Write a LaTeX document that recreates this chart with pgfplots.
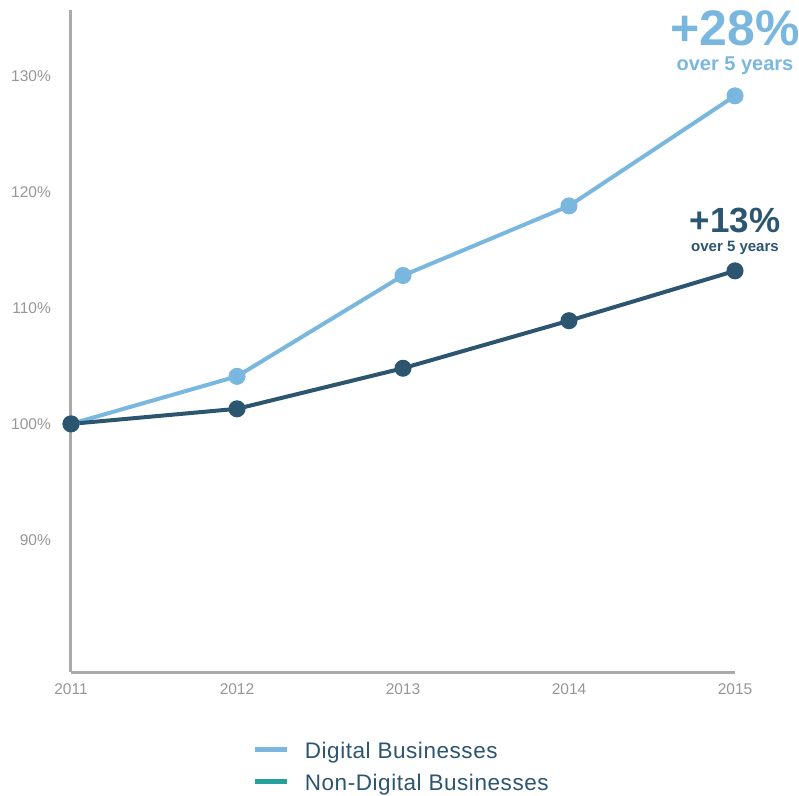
\documentclass[border=0pt]{standalone}
\usepackage{fontspec}
\setmainfont{Liberation Sans}
\newfontfamily\legendfont[LetterSpace=2.5]{Liberation Sans}
\usepackage{pgfplots}
\pgfplotsset{compat=1.18}

\definecolor{lightblue}{RGB}{122,183,222}
\definecolor{darkblue}{RGB}{44,85,112}
\definecolor{tealgreen}{RGB}{38,160,154}
\definecolor{axisgray}{RGB}{170,170,170}
\definecolor{tickgray}{RGB}{150,150,150}

\begin{document}
\begin{tikzpicture}[x=1pt,y=1pt]
\useasboundingbox (0,0) rectangle (799,795);
\begin{axis}[
    at={(71pt,123pt)}, anchor=south west,
    scale only axis, width=664pt, height=662pt,
    xmin=2011, xmax=2015, ymin=78.6, ymax=135.7,
    axis x line=bottom, axis y line=left,
    axis line style={draw=axisgray, line width=3pt, -},
    xtick={2011,2012,2013,2014,2015},
    ytick={90,100,110,120,130},
    major tick length=0pt,
    /pgf/number format/assume math mode=true,
    /pgf/number format/1000 sep={},
    yticklabel={\pgfmathprintnumber{\tick}\%},
    ticklabel style={text=tickgray, font=\fontsize{15.5}{16}\selectfont, inner sep=0pt},
    xticklabel style={anchor=north, yshift=-11pt},
    yticklabel style={anchor=east, xshift=-20pt},
    clip=false,
    legend style={at={(axis description cs:0.2725,-0.106)}, anchor=north west,
        draw=none, fill=none, inner sep=0pt, row sep=16pt,
        font=\legendfont\fontsize{22.5}{24}\selectfont, text=darkblue,
        nodes={inner sep=0pt, text depth=0pt}},
    legend cell align=left,
    legend image code/.code={\draw[#1, line width=5pt] (0pt,1pt) -- (32pt,1pt); \path (50pt,0pt);},
]
% Digital Businesses
\addplot[lightblue, line width=4pt, mark=*, mark size=6.5pt,
    mark options={fill=lightblue, draw=none}, forget plot]
    coordinates {(2011,100) (2012,104.1) (2013,112.8) (2014,118.8) (2015,128.3)};
% Non-Digital Businesses
\addplot[darkblue, line width=4pt, mark=*, mark size=6.5pt,
    mark options={fill=darkblue, draw=none}, forget plot]
    coordinates {(2011,100) (2012,101.3) (2013,104.8) (2014,108.9) (2015,113.2)};

\addlegendimage{lightblue}
\addlegendentry{Digital Businesses}
\addlegendimage{tealgreen}
\addlegendentry{Non-Digital Businesses}

% growth labels
\node[anchor=base, text=lightblue, font=\fontsize{50}{50}\selectfont\bfseries]
    at (axis cs:2015,132.67) {+28\%};
\node[anchor=base, text=lightblue, font=\fontsize{20}{20}\selectfont\bfseries]
    at (axis cs:2015,130.52) {over 5 years};
\node[anchor=base, text=darkblue, font=\fontsize{35}{35}\selectfont\bfseries]
    at (axis cs:2015,116.55) {+13\%};
\node[anchor=base, text=darkblue, font=\fontsize{15}{15}\selectfont\bfseries]
    at (axis cs:2015,114.9) {over 5 years};
\end{axis}
\end{tikzpicture}
\end{document}
